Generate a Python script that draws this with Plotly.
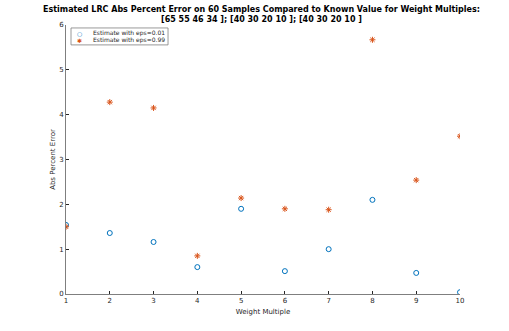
import plotly.graph_objects as go

weight_multiple = [1, 2, 3, 4, 5, 6, 7, 8, 9, 10]
err_eps_001 = [1.54, 1.36, 1.16, 0.60, 1.90, 0.51, 1.00, 2.10, 0.47, 0.04]
err_eps_099 = [1.50, 4.28, 4.15, 0.85, 2.14, 1.90, 1.88, 5.67, 2.54, 3.52]
series_names = ["Estimate with eps=0.01", "Estimate with eps=0.99"]
title_lines = [
    "Estimated LRC Abs Percent Error on 60 Samples Compared to Known Value for Weight Multiples:",
    "[65 55 46 34 ]; [40 30 20 10 ]; [40 30 20 10 ]",
]

blue = "#0072BD"
orange = "#D95319"

fig = go.Figure()
fig.add_trace(go.Scatter(
    x=weight_multiple, y=err_eps_001, mode="markers", name=series_names[0],
    marker=dict(symbol="circle-open", size=5, color=blue, line=dict(width=1))
))
fig.add_trace(go.Scatter(
    x=weight_multiple, y=err_eps_099, mode="markers", name=series_names[1],
    marker=dict(symbol="asterisk-open", size=5, color=orange, line=dict(width=1, color=orange))
))

fig.update_layout(
    width=509, height=331,
    margin=dict(l=66, r=49, t=25, b=37),
    plot_bgcolor="white", paper_bgcolor="white",
    font=dict(family="DejaVu Sans", size=7, color="#262626"),
    showlegend=False
)

# two-line bold title
for txt, yy in zip(title_lines, [1.056, 1.022]):
    fig.add_annotation(xref="paper", yref="paper", x=0.497, y=yy, text="<b>" + txt + "</b>",
                       showarrow=False, font=dict(size=8, color="black"),
                       xanchor="center", yanchor="middle")

# compact MATLAB-style legend
fig.add_shape(type="rect", xref="paper", yref="paper",
              x0=0.0127, x1=0.259, y0=0.926, y1=0.989,
              line=dict(color="#7f7f7f", width=0.8), fillcolor="white")
legend_rows = [0.970, 0.944]
legend_syms = ["○", "✱"]
for name, sym, col, yy in zip(series_names, legend_syms, [blue, orange], legend_rows):
    fig.add_annotation(xref="paper", yref="paper", x=0.0355, y=yy, text=sym,
                       showarrow=False, font=dict(size=6, color=col),
                       xanchor="center", yanchor="middle")
    fig.add_annotation(xref="paper", yref="paper", x=0.063, y=yy, text=name,
                       showarrow=False, font=dict(size=6, color="#262626"),
                       xanchor="left", yanchor="middle")

fig.update_xaxes(
    range=[1, 10], dtick=1, showgrid=False, zeroline=False,
    showline=True, linecolor="#7f7f7f", linewidth=1,
    ticks="inside", ticklen=3, tickcolor="#262626",
    title=dict(text="Weight Multiple", standoff=4, font=dict(size=7))
)
fig.update_yaxes(
    range=[0, 6], dtick=1, showgrid=False, zeroline=False,
    showline=True, linecolor="#7f7f7f", linewidth=1,
    ticks="inside", ticklen=3, tickcolor="#262626",
    title=dict(text="Abs Percent Error", standoff=2, font=dict(size=7))
)

fig.write_html("out.html", config={"displayModeBar": False},
               post_script="document.body.style.margin='0';")
